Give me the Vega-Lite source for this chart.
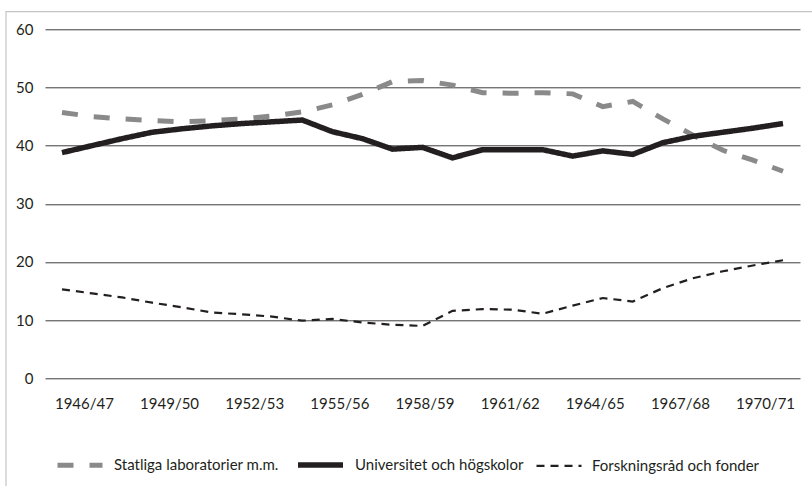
{
  "$schema": "https://vega.github.io/schema/vega-lite/v6.json",
  "autosize": "none",
  "width": 755,
  "height": 349,
  "padding": {"left": 45, "top": 29.3, "right": 12, "bottom": 107.7},
  "background": "white",
  "config": {
    "view": {"stroke": null},
    "font": "Lato",
    "axis": {"labelFont": "Lato", "labelFontSize": 15, "labelColor": "#231f20"},
    "legend": {"labelFont": "Lato", "labelFontSize": 15, "labelColor": "#231f20", "labelLimit": 400}
  },
  "data": {"values": [
      {"year": 1946, "serie": "Statliga laboratorier m.m.", "andel": 45.7},
      {"year": 1947, "serie": "Statliga laboratorier m.m.", "andel": 45.0},
      {"year": 1948, "serie": "Statliga laboratorier m.m.", "andel": 44.6},
      {"year": 1949, "serie": "Statliga laboratorier m.m.", "andel": 44.3},
      {"year": 1950, "serie": "Statliga laboratorier m.m.", "andel": 44.1},
      {"year": 1951, "serie": "Statliga laboratorier m.m.", "andel": 44.3},
      {"year": 1952, "serie": "Statliga laboratorier m.m.", "andel": 44.6},
      {"year": 1953, "serie": "Statliga laboratorier m.m.", "andel": 45.1},
      {"year": 1954, "serie": "Statliga laboratorier m.m.", "andel": 45.8},
      {"year": 1955, "serie": "Statliga laboratorier m.m.", "andel": 47.0},
      {"year": 1956, "serie": "Statliga laboratorier m.m.", "andel": 48.8},
      {"year": 1957, "serie": "Statliga laboratorier m.m.", "andel": 51.0},
      {"year": 1958, "serie": "Statliga laboratorier m.m.", "andel": 51.2},
      {"year": 1959, "serie": "Statliga laboratorier m.m.", "andel": 50.4},
      {"year": 1960, "serie": "Statliga laboratorier m.m.", "andel": 49.1},
      {"year": 1961, "serie": "Statliga laboratorier m.m.", "andel": 49.0},
      {"year": 1962, "serie": "Statliga laboratorier m.m.", "andel": 49.1},
      {"year": 1963, "serie": "Statliga laboratorier m.m.", "andel": 48.9},
      {"year": 1964, "serie": "Statliga laboratorier m.m.", "andel": 46.7},
      {"year": 1965, "serie": "Statliga laboratorier m.m.", "andel": 47.6},
      {"year": 1966, "serie": "Statliga laboratorier m.m.", "andel": 44.6},
      {"year": 1967, "serie": "Statliga laboratorier m.m.", "andel": 41.8},
      {"year": 1968, "serie": "Statliga laboratorier m.m.", "andel": 39.2},
      {"year": 1969, "serie": "Statliga laboratorier m.m.", "andel": 37.5},
      {"year": 1970, "serie": "Statliga laboratorier m.m.", "andel": 35.6},
      {"year": 1946, "serie": "Universitet och högskolor", "andel": 38.8},
      {"year": 1947, "serie": "Universitet och högskolor", "andel": 40.0},
      {"year": 1948, "serie": "Universitet och högskolor", "andel": 41.2},
      {"year": 1949, "serie": "Universitet och högskolor", "andel": 42.3},
      {"year": 1950, "serie": "Universitet och högskolor", "andel": 42.9},
      {"year": 1951, "serie": "Universitet och högskolor", "andel": 43.4},
      {"year": 1952, "serie": "Universitet och högskolor", "andel": 43.8},
      {"year": 1953, "serie": "Universitet och högskolor", "andel": 44.1},
      {"year": 1954, "serie": "Universitet och högskolor", "andel": 44.4},
      {"year": 1955, "serie": "Universitet och högskolor", "andel": 42.4},
      {"year": 1956, "serie": "Universitet och högskolor", "andel": 41.2},
      {"year": 1957, "serie": "Universitet och högskolor", "andel": 39.4},
      {"year": 1958, "serie": "Universitet och högskolor", "andel": 39.7},
      {"year": 1959, "serie": "Universitet och högskolor", "andel": 37.9},
      {"year": 1960, "serie": "Universitet och högskolor", "andel": 39.3},
      {"year": 1961, "serie": "Universitet och högskolor", "andel": 39.3},
      {"year": 1962, "serie": "Universitet och högskolor", "andel": 39.3},
      {"year": 1963, "serie": "Universitet och högskolor", "andel": 38.2},
      {"year": 1964, "serie": "Universitet och högskolor", "andel": 39.1},
      {"year": 1965, "serie": "Universitet och högskolor", "andel": 38.5},
      {"year": 1966, "serie": "Universitet och högskolor", "andel": 40.5},
      {"year": 1967, "serie": "Universitet och högskolor", "andel": 41.6},
      {"year": 1968, "serie": "Universitet och högskolor", "andel": 42.3},
      {"year": 1969, "serie": "Universitet och högskolor", "andel": 43.0},
      {"year": 1970, "serie": "Universitet och högskolor", "andel": 43.8},
      {"year": 1946, "serie": "Forskningsråd och fonder", "andel": 15.3},
      {"year": 1947, "serie": "Forskningsråd och fonder", "andel": 14.6},
      {"year": 1948, "serie": "Forskningsråd och fonder", "andel": 13.9},
      {"year": 1949, "serie": "Forskningsråd och fonder", "andel": 13.0},
      {"year": 1950, "serie": "Forskningsråd och fonder", "andel": 12.2},
      {"year": 1951, "serie": "Forskningsråd och fonder", "andel": 11.3},
      {"year": 1952, "serie": "Forskningsråd och fonder", "andel": 11.0},
      {"year": 1953, "serie": "Forskningsråd och fonder", "andel": 10.6},
      {"year": 1954, "serie": "Forskningsråd och fonder", "andel": 9.9},
      {"year": 1955, "serie": "Forskningsråd och fonder", "andel": 10.2},
      {"year": 1956, "serie": "Forskningsråd och fonder", "andel": 9.6},
      {"year": 1957, "serie": "Forskningsråd och fonder", "andel": 9.2},
      {"year": 1958, "serie": "Forskningsråd och fonder", "andel": 9.0},
      {"year": 1959, "serie": "Forskningsråd och fonder", "andel": 11.6},
      {"year": 1960, "serie": "Forskningsråd och fonder", "andel": 11.9},
      {"year": 1961, "serie": "Forskningsråd och fonder", "andel": 11.8},
      {"year": 1962, "serie": "Forskningsråd och fonder", "andel": 11.1},
      {"year": 1963, "serie": "Forskningsråd och fonder", "andel": 12.5},
      {"year": 1964, "serie": "Forskningsråd och fonder", "andel": 13.8},
      {"year": 1965, "serie": "Forskningsråd och fonder", "andel": 13.2},
      {"year": 1966, "serie": "Forskningsråd och fonder", "andel": 15.5},
      {"year": 1967, "serie": "Forskningsråd och fonder", "andel": 17.2},
      {"year": 1968, "serie": "Forskningsråd och fonder", "andel": 18.4},
      {"year": 1969, "serie": "Forskningsråd och fonder", "andel": 19.4},
      {"year": 1970, "serie": "Forskningsråd och fonder", "andel": 20.3}
  ]},
  "layer": [
    {
      "mark": {"type": "rect", "fill": "transparent", "stroke": "#c4c4c4", "strokeWidth": 1.2, "clip": false},
      "transform": [{"filter": "datum.year == 1946 && datum.andel > 40"}],
      "encoding": {
        "x": {"datum": 1944.136, "type": "quantitative"},
        "x2": {"datum": 1976},
        "y": {"datum": 63.03, "type": "quantitative"},
        "y2": {"datum": -30}
      }
    },
    {
      "mark": {"type": "line", "strokeCap": "butt", "strokeJoin": "miter"},
      "encoding": {
        "x": {
          "field": "year", "type": "quantitative",
          "scale": {"domain": [1945.434, 1970.566], "nice": false, "zero": false},
          "axis": {
            "values": [1946.73, 1949.564, 1952.398, 1955.232, 1958.066, 1960.9, 1963.734, 1966.568, 1969.402],
            "labelExpr": "['1946/47','1949/50','1952/53','1955/56','1958/59','1961/62','1964/65','1967/68','1970/71'][round((datum.value - 1946.73) / 2.834)]",
            "domain": false, "ticks": false, "grid": false, "labelAngle": 0, "labelPadding": 18,
            "labelOverlap": false, "labelFlush": false, "title": null
          }
        },
        "y": {
          "field": "andel", "type": "quantitative",
          "scale": {"domain": [0, 60], "nice": false},
          "axis": {"values": [0, 10, 20, 30, 40, 50, 60], "grid": true, "gridColor": "#3c3c3c", "gridWidth": 1, "domain": false, "ticks": false, "labelPadding": 12, "title": null}
        },
        "color": {
          "field": "serie", "type": "nominal",
          "scale": {"domain": ["Statliga laboratorier m.m.", "Universitet och högskolor", "Forskningsråd och fonder"], "range": ["#8a8a8a", "#231f20", "#231f20"]},
          "legend": {
            "title": null, "orient": "none", "direction": "horizontal", "legendX": 10, "legendY": 410,
            "symbolType": "stroke", "symbolSize": 2025, "labelOffset": 9, "columnPadding": 8, "padding": 0, "labelLimit": 400
          }
        },
        "strokeDash": {
          "field": "serie", "type": "nominal",
          "scale": {"domain": ["Statliga laboratorier m.m.", "Universitet och högskolor", "Forskningsråd och fonder"], "range": [[16, 16], [1, 0], [8, 6]]},
          "legend": {
            "title": null, "orient": "none", "direction": "horizontal", "legendX": 10, "legendY": 410,
            "symbolType": "stroke", "symbolSize": 2025, "labelOffset": 9, "columnPadding": 8, "padding": 0, "labelLimit": 400
          }
        },
        "strokeWidth": {
          "field": "serie", "type": "nominal",
          "scale": {"type": "ordinal", "domain": ["Statliga laboratorier m.m.", "Universitet och högskolor", "Forskningsråd och fonder"], "range": [5, 5.5, 2.2]},
          "legend": {
            "title": null, "orient": "none", "direction": "horizontal", "legendX": 10, "legendY": 410,
            "symbolType": "stroke", "symbolSize": 2025, "labelOffset": 9, "columnPadding": 8, "padding": 0, "labelLimit": 400
          }
        }
      }
    }
  ]
}
